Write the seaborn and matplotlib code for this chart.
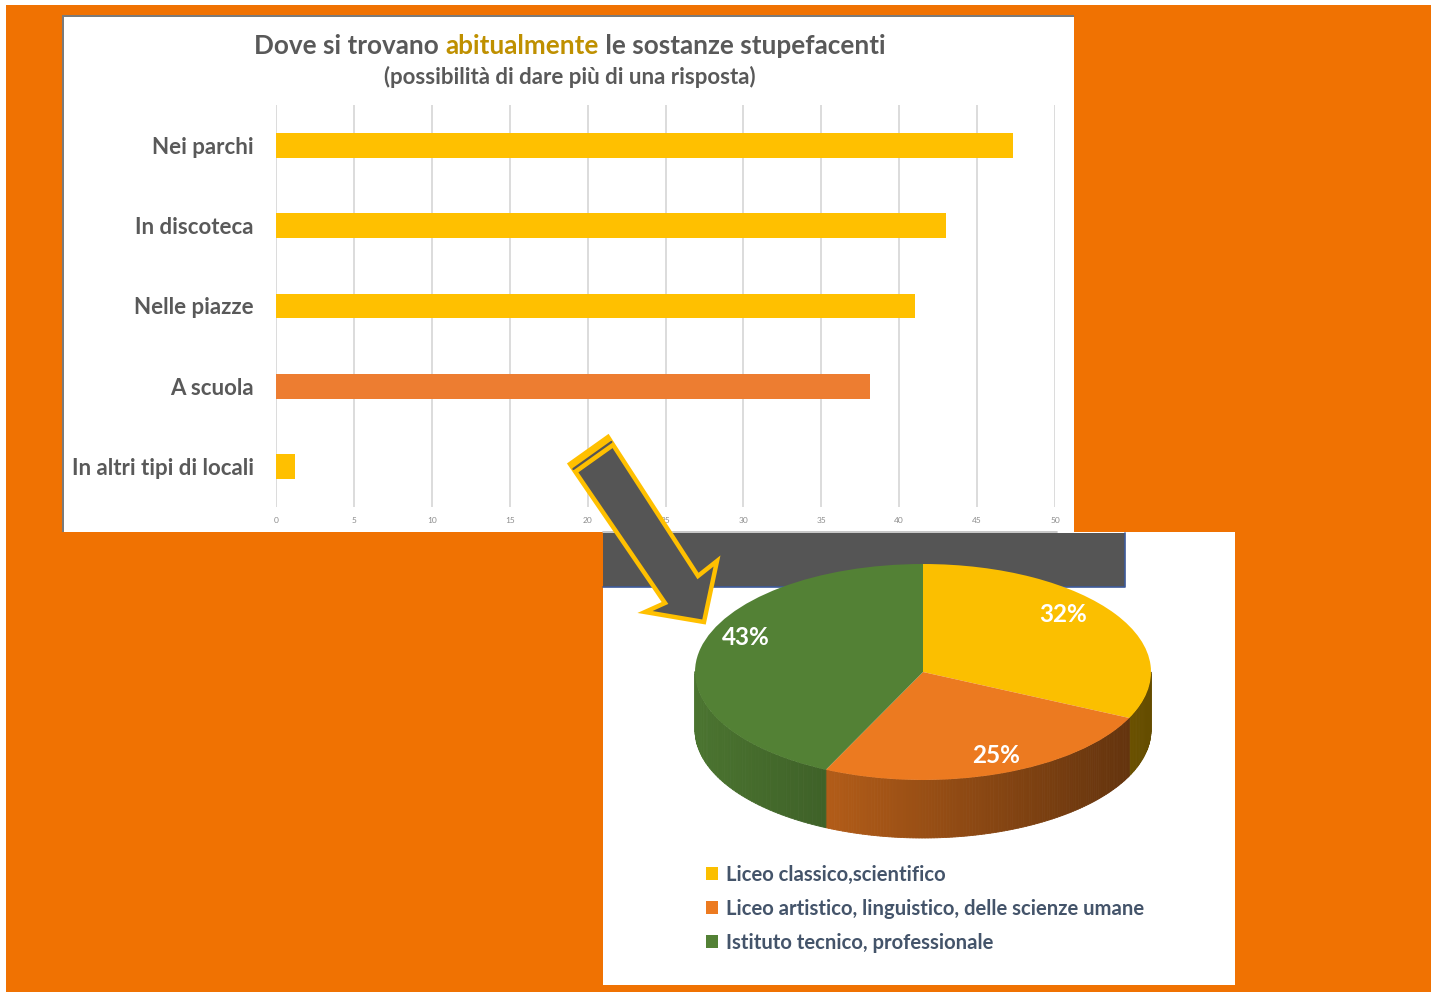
import numpy as np
import pandas as pd
import matplotlib
matplotlib.use("Agg")
import matplotlib.pyplot as plt
import seaborn as sns
from matplotlib.patches import Rectangle, Polygon
from matplotlib.collections import PolyCollection
from matplotlib.colors import to_rgb

# Where drugs are usually found (more than one answer allowed)
places = ["Nei parchi", "In discoteca", "Nelle piazze", "A scuola", "In altri tipi di locali"]
answers = [47.3, 43.0, 41.0, 38.1, 1.2]
bar_colors = ["#FFC000", "#FFC000", "#FFC000", "#ED7D31", "#FFC000"]
x_ticks = [0, 5, 10, 15, 20, 25, 30, 35, 40, 45, 50]

# "A scuola" answers split by type of school
school_types = ["Liceo classico,scientifico",
                "Liceo artistico, linguistico, delle scienze umane",
                "Istituto tecnico, professionale"]
school_share = [32, 25, 43]
pie_colors = ["#FBBF00", "#EC7A20", "#538135"]

title_parts = [("Dove si trovano ", "#595959"), ("abitualmente", "#BF9000"),
               (" le sostanze stupefacenti", "#595959")]
subtitle = "(possibilità di dare più di una risposta)"

W, H = 1431, 992
sns.set_style("white")
plt.rcParams["font.family"] = ["Lato", "DejaVu Sans"]

fig = plt.figure(figsize=(W / 100, H / 100), dpi=100)
fig.patch.set_facecolor("white")


def px_axes(x0, y0, x1, y1, z):
    a = fig.add_axes([x0 / W, 1 - y1 / H, (x1 - x0) / W, (y1 - y0) / H])
    a.set_zorder(z)
    return a


# ---- background: orange slide, white panels ----
bg = px_axes(0, 0, W, H, -1)
bg.set_xlim(0, W)
bg.set_ylim(H, 0)
bg.axis("off")
bg.add_patch(Rectangle((6, 5), W - 6, H - 5, color="#F07202", lw=0))
bg.add_patch(Rectangle((62, 15), 1012, 517, color="#7A7A7A", lw=0))
bg.add_patch(Rectangle((64, 17), 1010, 515, color="white", lw=0))
bg.add_patch(Rectangle((603, 532), 632, 453, color="white", lw=0))
bg.add_patch(Rectangle((603, 533), 522, 54, color="#555555", lw=0))
bg.plot([603, 1125, 1125], [587, 587, 533], color="#3D5A99", lw=1.2)
bg.plot([603, 1057], [532, 532], color="#BDBDBD", lw=1.2)

# ---- title in two colours ----
renderer = fig.canvas.get_renderer()


def text_w(s, **kw):
    t = bg.text(0, 0, s, **kw)
    w = t.get_window_extent(renderer).width
    t.remove()
    return w


tkw = dict(fontsize=18.8, fontweight="bold", va="center", ha="left")
full = "".join(p for p, _ in title_parts)
x0 = 570 - text_w(full, **tkw) / 2
bar_w = text_w("|", **tkw)
prefix = ""
for part, col in title_parts:
    xp = x0 + (text_w(prefix + "|", **tkw) - bar_w if prefix else 0)
    bg.text(xp, 46, part, color=col, **tkw)
    prefix += part
bg.text(570, 77, subtitle, color="#595959", fontsize=16, fontweight="bold",
        ha="center", va="center")

# ---- horizontal bar chart ----
ax = px_axes(276, 105, 1055, 507, 1)
df = pd.DataFrame({"place": places, "answers": answers})
sns.barplot(data=df, x="answers", y="place", hue="place", palette=bar_colors,
            legend=False, width=0.31, orient="h", saturation=1, linewidth=0, ax=ax)
ax.set_xlim(0, 50)
ax.set_ylim(4.5, -0.5)
ax.set_xticks(x_ticks)
ax.set_xticklabels([str(v) for v in x_ticks])
ax.grid(axis="x", color="#D9D9D9", lw=1.3)
ax.grid(axis="y", visible=False)
ax.set_axisbelow(True)
for s in ax.spines.values():
    s.set_visible(False)
ax.patch.set_alpha(0)
ax.set_xlabel("")
ax.set_ylabel("")
ax.tick_params(axis="x", length=0, labelsize=6, labelcolor="#8C8C8C", pad=7)
ax.tick_params(axis="y", length=0, labelsize=16, labelcolor="#595959", pad=16)
for lab in ax.get_yticklabels():
    lab.set_fontweight("bold")

# ---- 3D-looking pie chart ----
cx, cy, rx, ry, depth = 923, 672, 228, 108, 58
pax = px_axes(cx - 250, 520, cx + 250, 880, 2)
wedges, _, autotexts = pax.pie(
    school_share, colors=pie_colors, startangle=90, counterclock=False,
    autopct="%1.0f%%", wedgeprops=dict(linewidth=0),
    textprops=dict(color="white", fontsize=17.5, fontweight="bold"))
pax.set_aspect("auto")
pax.set_xlim(-250 / rx, 250 / rx)
pax.set_ylim(-(880 - cy) / ry, (cy - 520) / ry)
pax.axis("off")

d = depth / ry
polys, fcols = [], []
for w, col in zip(wedges, pie_colors):
    base = np.array(to_rgb(col))
    ts = np.radians(np.linspace(w.theta1, w.theta2, 120))
    for a, b in zip(ts[:-1], ts[1:]):
        m = 0.5 * (a + b)
        if np.sin(m) >= 0:
            continue
        polys.append([(np.cos(a), np.sin(a)), (np.cos(b), np.sin(b)),
                      (np.cos(b), np.sin(b) - d), (np.cos(a), np.sin(a) - d)])
        f = 0.9 - 0.5 * (np.cos(m) + 1) / 2
        fcols.append(np.clip(base * f, 0, 1))
side = PolyCollection(polys, facecolors=fcols, edgecolors=fcols, linewidths=0.6, zorder=0.5)
pax.add_collection(side)

label_pos = [(0.614, 0.528), (0.320, -0.769), (-0.776, 0.315)]
for t, (lx, ly) in zip(autotexts, label_pos):
    t.set_position((lx, ly))
    t.set_ha("center")
    t.set_va("center")

pax.legend(wedges, school_types, loc="upper left",
           bbox_to_anchor=(706 / W, 1 - 865 / H), bbox_transform=fig.transFigure,
           frameon=False, prop=dict(weight="bold", size=14.6), labelcolor="#44546A",
           handlelength=0.6, handleheight=0.6, handletextpad=0.4,
           labelspacing=0.68, borderpad=0, borderaxespad=0)

# ---- arrow from the "A scuola" bar down to the pie ----
top = px_axes(0, 0, W, H, 5)
top.set_xlim(0, W)
top.set_ylim(H, 0)
top.axis("off")
top.patch.set_alpha(0)
L0, R0 = np.array([570, 464]), np.array([608, 437])
arrow_pts = [L0, (665, 603), (645, 612), (704, 622), (717, 561), (698, 576), R0]
top.add_patch(Polygon(arrow_pts, closed=True, facecolor="#555555",
                      edgecolor="#FFC000", lw=3.2, joinstyle="miter"))
u = np.array([95, 139]) / np.hypot(95, 139)
top.add_patch(Polygon([L0, R0, R0 + 11 * u, L0 + 11 * u], closed=True,
                      facecolor="#FFC000", edgecolor="#FFC000", lw=1))
top.plot([L0[0] + 6 * u[0], R0[0] + 6 * u[0]], [L0[1] + 6 * u[1], R0[1] + 6 * u[1]],
         color="#555555", lw=1.6)

fig.savefig("out.png", dpi=100)
